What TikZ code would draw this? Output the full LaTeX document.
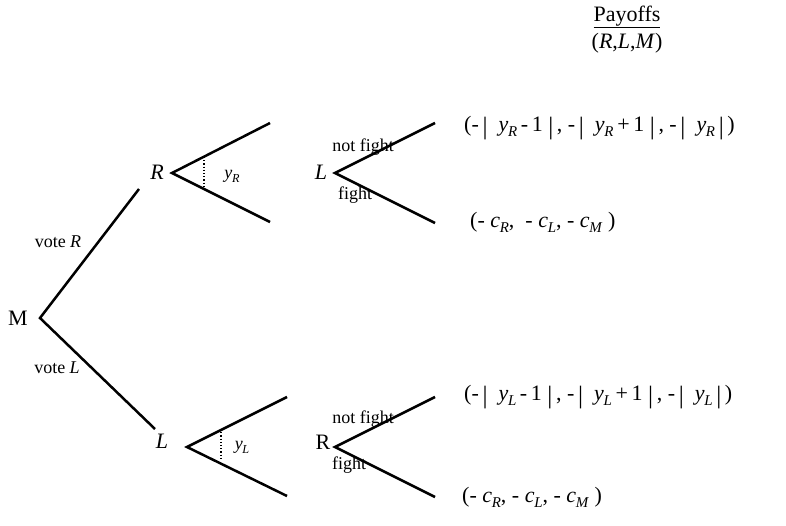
\documentclass[tikz,border=0pt]{standalone}
\usepackage{fontspec}
\setmainfont{Liberation Serif}
\newcommand{\sub}[1]{\raisebox{-0.22em}{\fontsize{0.68\dimexpr\fontdimen6\font\relax}{1em}\selectfont\textit{#1}}}
\newcommand{\yv}[1]{\textit{y}\kern-0.3pt\sub{#1}}
\newcommand{\cv}[1]{\textit{c}\kern-0.3pt\sub{#1}}
\newcommand{\bb}{\raisebox{-0.12em}{\fontsize{25}{25}\selectfont|}}
\begin{document}
\begin{tikzpicture}[x=1pt,y=-1pt,
  edge/.style={line width=2.5pt},
  angle/.style={dotted, line width=1.2pt},
  lab/.style={font=\fontsize{18}{21}\selectfont, inner sep=0pt},
  big/.style={font=\fontsize{22}{26}\selectfont, inner sep=0pt},
  pay/.style={font=\fontsize{22}{26}\selectfont, inner sep=0pt, anchor=west}]
\useasboundingbox (0,0) rectangle (786,525);
% vertices
\coordinate (m) at (40,318);
\coordinate (mr) at (139,189);
\coordinate (ml) at (155,429);
\coordinate (r) at (172,173);
\coordinate (ru) at (270,123);
\coordinate (rd) at (270,222);
\coordinate (l) at (187,447);
\coordinate (lu) at (287,397);
\coordinate (ld) at (287,496);
\coordinate (l2) at (335,173);
\coordinate (l2u) at (435,123);
\coordinate (l2d) at (435,223);
\coordinate (r2) at (335,447);
\coordinate (r2u) at (435,397);
\coordinate (r2d) at (435,497);
\coordinate (ra) at (204,157);
\coordinate (rb) at (204,188);
\coordinate (la) at (221,429);
\coordinate (lb) at (221,460);
% edges
\draw[edge] (mr) -- (m) -- (ml);
\draw[edge] (ru) -- (r) -- (rd);
\draw[edge] (lu) -- (l) -- (ld);
\draw[edge] (l2u) -- (l2) -- (l2d);
\draw[edge] (r2u) -- (r2) -- (r2d);
\draw[angle] (ra) -- (rb);
\draw[angle] (la) -- (lb);
% labels
\node[big] (mlab) at (18,318) {M};
\node[big] (rlab) at (157,172) {\textit{R}};
\node[big] (llab) at (162,441) {\textit{L}};
\node[big] (l2lab) at (321,172) {\textit{L}};
\node[big] (r2lab) at (323,442) {R};
\node[lab] (yr) at (232,176) {\yv{R}};
\node[lab] (yl) at (242,447) {\yv{L}};
\node[lab] (voter) at (58,242) {vote \textit{R}};
\node[lab] (votel) at (57,368) {vote \textit{L}};
\node[lab] (nf1) at (363,147) {not fight};
\node[lab] (f1) at (355,195) {fight};
\node[lab] (nf2) at (363,419) {not fight};
\node[lab] (f2) at (349,465) {fight};
\node[pay] (p1) at (464,128) {(-\,\bb\ \ \yv{R}\,-\,1\ \bb\,,\ -\,\bb\ \ \yv{R}\,+\,1\ \bb\,,\ -\,\bb\ \ \yv{R}\,\bb\,)};
\node[pay] (p2) at (470,222) {(-\ \cv{R},\ \ -\ \cv{L},\ -\ \cv{M}\ )};
\node[pay] (p3) at (464,397) {(-\,\bb\ \ \yv{L}\,-\,1\ \bb\,,\ -\,\bb\ \ \yv{L}\,+\,1\ \bb\,,\ -\,\bb\ \ \yv{L}\,\bb\,)};
\node[pay] (p4) at (462,497) {(-\ \cv{R},\ -\ \cv{L},\ -\ \cv{M}\ )};
\node[big] (ph) at (627,17) {\underline{Payoffs}};
\node[big] (ph2) at (627,43) {(\textit{R},\textit{L},\textit{M})};
\end{tikzpicture}
\end{document}
